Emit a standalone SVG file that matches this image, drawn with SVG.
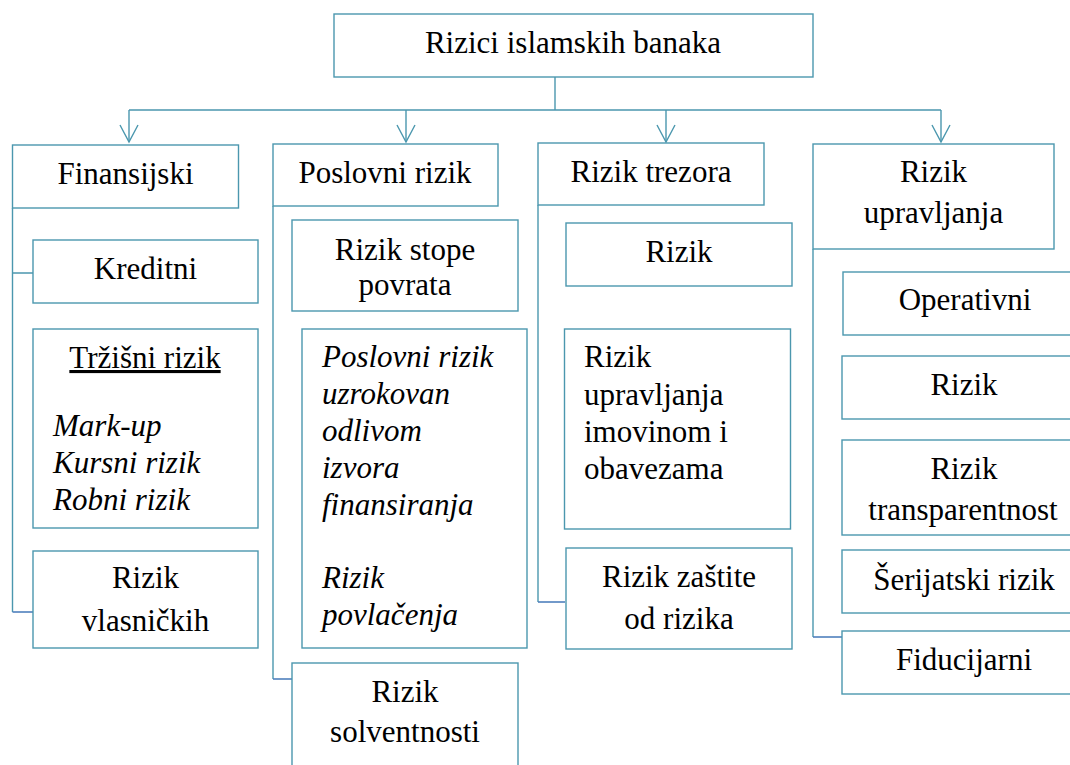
<svg xmlns="http://www.w3.org/2000/svg" width="1070" height="765" viewBox="0 0 1070 765">
  <style>
    .box { fill: #ffffff; stroke: #4b97ae; stroke-width: 1.4; }
    .link { fill: none; stroke: #4b97ae; stroke-width: 1.4; }
    .stub { fill: none; stroke: #4f7fbd; stroke-width: 1.6; }
    .head { fill: none; stroke: #4b97ae; stroke-width: 1.4; stroke-linejoin: miter; }
    text { font-family: "Liberation Serif", Tinos, "Noto Serif", "DejaVu Serif", FreeSerif, Times, serif; font-size: 31px; fill: #000000; }
    .c { text-anchor: middle; }
    .it { font-style: italic; }
  </style>

  <rect width="1070" height="765" fill="#ffffff"/>

  <!-- connectors -->
  <g id="connectors">
    <path class="link" d="M555 77 V110 M129 110 H941 M129 110 V142 M406 110 V142 M666 110 V142 M941 110 V142"/>
    <path class="head" d="M120 125 L129 142 L138 125"/>
    <path class="head" d="M397 125 L406 142 L415 125"/>
    <path class="head" d="M657 125 L666 142 L675 125"/>
    <path class="head" d="M932 125 L941 142 L950 125"/>
    <!-- Finansijski branch -->
    <path class="link" d="M12.5 208 V612 M12.5 273 H33"/>
    <path class="stub" d="M12.5 612 H33"/>
    <!-- Poslovni rizik branch -->
    <path class="link" d="M273 206 V679"/>
    <path class="stub" d="M273 679 H292"/>
    <!-- Rizik trezora branch -->
    <path class="link" d="M538 205 V602"/>
    <path class="stub" d="M538 602 H565"/>
    <!-- Rizik upravljanja branch -->
    <path class="link" d="M813 249 V637"/>
    <path class="stub" d="M813 637 H842"/>
  </g>

  <g id="root">
    <rect class="box" x="334" y="14" width="479" height="63"/>
    <text class="c" x="573" y="53">Rizici islamskih banaka</text>
  </g>

  <!-- column 1 -->
  <g id="finansijski">
    <rect class="box" x="12.5" y="145" width="226" height="63"/>
    <text class="c" x="125.5" y="184">Finansijski</text>
  </g>
  <g id="kreditni">
    <rect class="box" x="33" y="240" width="225" height="63"/>
    <text class="c" x="145.5" y="279">Kreditni</text>
  </g>
  <g id="trzisni">
    <rect class="box" x="33" y="329" width="225" height="199"/>
    <text class="c" x="145" y="368" text-decoration="underline">Tržišni rizik</text>
    <text class="it" x="53" y="436">Mark-up</text>
    <text class="it" x="53" y="473">Kursni rizik</text>
    <text class="it" x="53" y="510">Robni rizik</text>
  </g>
  <g id="vlasnicki">
    <rect class="box" x="33" y="551" width="225" height="97"/>
    <text class="c" x="145.5" y="588">Rizik</text>
    <text class="c" x="145.5" y="631">vlasničkih</text>
  </g>

  <!-- column 2 -->
  <g id="poslovni">
    <rect class="box" x="273" y="144" width="225" height="62"/>
    <text class="c" x="385" y="183">Poslovni rizik</text>
  </g>
  <g id="stopa-povrata">
    <rect class="box" x="292" y="220" width="226" height="91"/>
    <text class="c" x="405" y="260">Rizik stope</text>
    <text class="c" x="405" y="295">povrata</text>
  </g>
  <g id="odliv">
    <rect class="box" x="302" y="329" width="225" height="319"/>
    <text class="it" x="322" y="367">Poslovni rizik</text>
    <text class="it" x="322" y="404">uzrokovan</text>
    <text class="it" x="322" y="441">odlivom</text>
    <text class="it" x="322" y="478">izvora</text>
    <text class="it" x="322" y="515">finansiranja</text>
    <text class="it" x="322" y="588">Rizik</text>
    <text class="it" x="322" y="625">povlačenja</text>
  </g>
  <g id="solventnost">
    <rect class="box" x="292" y="663" width="226" height="120"/>
    <text class="c" x="405" y="702">Rizik</text>
    <text class="c" x="405" y="742">solventnosti</text>
  </g>

  <!-- column 3 -->
  <g id="trezor">
    <rect class="box" x="538" y="143" width="226" height="62"/>
    <text class="c" x="651" y="182">Rizik trezora</text>
  </g>
  <g id="rizik-3">
    <rect class="box" x="566" y="223" width="226" height="63"/>
    <text class="c" x="679" y="262">Rizik</text>
  </g>
  <g id="imovina">
    <rect class="box" x="564.5" y="329" width="226" height="200"/>
    <text x="584" y="367">Rizik</text>
    <text x="584" y="405">upravljanja</text>
    <text x="584" y="442">imovinom i</text>
    <text x="584" y="479">obavezama</text>
  </g>
  <g id="zastita">
    <rect class="box" x="566" y="548" width="226" height="101"/>
    <text class="c" x="679" y="587">Rizik zaštite</text>
    <text class="c" x="679" y="629">od rizika</text>
  </g>

  <!-- column 4 -->
  <g id="upravljanje">
    <rect class="box" x="813" y="144" width="241" height="105"/>
    <text class="c" x="933.5" y="182">Rizik</text>
    <text class="c" x="933.5" y="223">upravljanja</text>
  </g>
  <g id="operativni">
    <rect class="box" x="843" y="272" width="244" height="63"/>
    <text class="c" x="965" y="310">Operativni</text>
  </g>
  <g id="rizik-4">
    <rect class="box" x="842" y="356" width="245" height="63"/>
    <text class="c" x="964" y="395">Rizik</text>
  </g>
  <g id="transparentnost">
    <rect class="box" x="842" y="440" width="245" height="95"/>
    <text class="c" x="964" y="479">Rizik</text>
    <text class="c" x="963" y="520">transparentnost</text>
  </g>
  <g id="serijatski">
    <rect class="box" x="842" y="550" width="245" height="63"/>
    <text class="c" x="964" y="590">Šerijatski rizik</text>
  </g>
  <g id="fiducijarni">
    <rect class="box" x="842" y="631" width="245" height="63"/>
    <text class="c" x="964" y="670">Fiducijarni</text>
  </g>
</svg>
